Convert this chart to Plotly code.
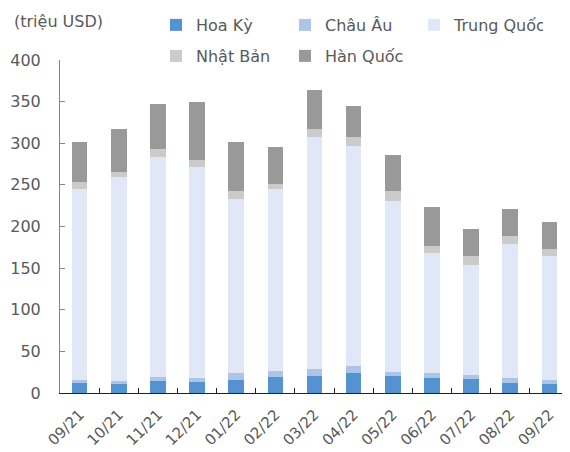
import plotly.graph_objects as go

months = ["09/21", "10/21", "11/21", "12/21", "01/22", "02/22", "03/22",
          "04/22", "05/22", "06/22", "07/22", "08/22", "09/22"]
hoa_ky = [12, 11, 14, 13, 16, 19, 21, 24, 20, 18, 17, 12, 11]
chau_au = [4, 3.5, 5, 5, 8, 7.5, 8, 9, 5.5, 6, 5, 5.5, 4.5]
trung_quoc = [229, 245, 265, 253, 209, 218, 278, 264, 205, 144, 132, 161, 149]
nhat_ban = [9, 6.5, 9, 9, 10, 7, 10, 10, 12, 9, 10, 10, 9]
han_quoc = [47, 51, 54, 69, 58, 44, 47, 38, 43, 46, 33, 32, 32]

series = [
    ("Hoa Kỳ", hoa_ky, "#5592D0", "legend"),
    ("Châu Âu", chau_au, "#AEC3E8", "legend"),
    ("Trung Quốc", trung_quoc, "#E0E8F7", "legend"),
    ("Nhật Bản", nhat_ban, "#CBCBCB", "legend2"),
    ("Hàn Quốc", han_quoc, "#999999", "legend2"),
]

fig = go.Figure()
for name, vals, col, leg in series:
    fig.add_trace(go.Bar(x=months, y=vals, name=name, marker_color=col,
                         marker_line_width=0, legend=leg))

font_family = "DejaVu Sans"
txt = "#595959"
fs = 16
W, H = 562, 444          # page body has an 8px margin
L, R, T, B = 52, 1, 52, 59
plot_w, plot_h = W - L - R, H - T - B

leg_common = dict(orientation="h", xanchor="left", xref="container",
                  yanchor="top", yref="container",
                  entrywidth=84, entrywidthmode="pixels",
                  font=dict(size=fs, color=txt, family=font_family),
                  traceorder="normal", itemwidth=30,
                  bgcolor="rgba(0,0,0,0)")

fig.update_layout(
    barmode="stack",
    bargap=0.6,
    width=W, height=H,
    margin=dict(l=L, r=R, t=T, b=B, autoexpand=False),
    paper_bgcolor="white", plot_bgcolor="white",
    font=dict(family=font_family, size=fs, color=txt),
    legend=dict(x=148 / W, y=1.0, **leg_common),
    legend2=dict(x=148 / W, y=1 - 31 / H, **leg_common),
    xaxis=dict(showline=True, linecolor="#222222", linewidth=1,
               ticks="inside", tickson="boundaries", ticklen=5,
               tickcolor="#222222", tickangle=-45, showgrid=False,
               ticklabelstandoff=6,
               tickfont=dict(size=15, color=txt)),
    yaxis=dict(range=[0, 400], dtick=50, showline=True, linecolor="#868686",
               linewidth=1, ticks="inside", ticklen=5, tickcolor="#868686",
               showgrid=False, zeroline=False, ticklabelstandoff=15,
               tickfont=dict(size=fs, color=txt)),
)
fig.add_annotation(text="(triệu USD)", xref="paper", yref="paper",
                   x=(4 - L) / plot_w, y=(H - B - 13) / plot_h,
                   xanchor="left", yanchor="middle",
                   showarrow=False, font=dict(size=fs, color=txt))
fig.write_html("out.html")
